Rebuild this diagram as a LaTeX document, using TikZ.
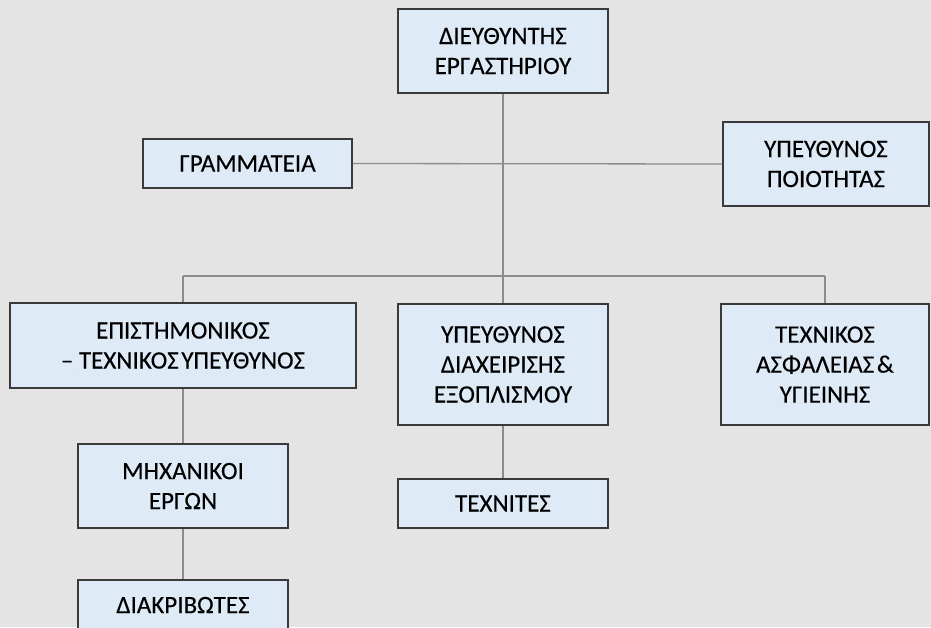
\documentclass[tikz,border=0pt]{standalone}
\usepackage{fontspec}
\setmainfont{Carlito}[FakeBold=0.3]
\begin{document}
\begin{tikzpicture}[x=1pt,y=-1pt,
  box/.style={draw=boxline,fill=boxfill,line width=1.6pt,inner sep=0pt,align=center,
    font=\fontsize{25}{30}\selectfont,text=black},
  conn/.style={draw=connline,line width=1.3pt}]
\definecolor{bgc}{HTML}{E4E4E4}
\definecolor{boxfill}{HTML}{DEEAF6}
\definecolor{boxline}{HTML}{3A3A3A}
\definecolor{connline}{HTML}{8C8C8C}
\useasboundingbox (0,0) rectangle (931,627);
\clip (0,0) rectangle (931,627);
\fill[bgc] (0,0) rectangle (931,627);
% nodes
\node[box,minimum width=210,minimum height=84] (top) at (503,51) {ΔΙΕΥΘΥΝΤΗΣ\\ΕΡΓΑΣΤΗΡΙΟΥ};
\node[box,minimum width=209,minimum height=49] (gram) at (247.5,163.5) {ΓΡΑΜΜΑΤΕΙΑ};
\node[box,minimum width=206,minimum height=84] (qual) at (826,164) {ΥΠΕΥΘΥΝΟΣ\\ΠΟΙΟΤΗΤΑΣ};
\node[box,minimum width=346,minimum height=85] (sci) at (183,345.5) {ΕΠΙΣΤΗΜΟΝΙΚΟΣ\\– ΤΕΧΝΙΚΟΣ\hspace{-0.12em} ΥΠΕΥΘΥΝΟΣ};
\node[box,minimum width=210,minimum height=121] (equip) at (503,364.5) {ΥΠΕΥΘΥΝΟΣ\\ΔΙΑΧΕΙΡΙΣΗΣ\\ΕΞΟΠΛΙΣΜΟΥ};
\node[box,minimum width=208,minimum height=121] (safe) at (825,364.5) {ΤΕΧΝΙΚΟΣ\\ΑΣΦΑΛΕΙΑΣ\hspace{-0.12em} \&\\ΥΓΙΕΙΝΗΣ};
\node[box,minimum width=210,minimum height=84] (mech) at (183,486) {ΜΗΧΑΝΙΚΟΙ\\ΕΡΓΩΝ};
\node[box,minimum width=210,minimum height=49] (techn) at (503,503.5) {ΤΕΧΝΙΤΕΣ};
\node[box,minimum width=210,minimum height=50] (calib) at (183,605) {ΔΙΑΚΡΙΒΩΤΕΣ};
% bus coordinates
\coordinate (busmid) at (503,276);
\coordinate (busl) at (183,276);
\coordinate (busr) at (825,276);
% connectors
\path[conn] (gram.east) -- (qual.west);
\path[conn] (top.south) -- (busmid);
\path[conn] (busl) -- (busr);
\path[conn] (busl) -- (sci.north);
\path[conn] (busmid) -- (equip.north);
\path[conn] (busr) -- (safe.north);
\path[conn] (sci.south) -- (mech.north);
\path[conn] (mech.south) -- (calib.north);
\path[conn] (equip.south) -- (techn.north);
\end{tikzpicture}
\end{document}
